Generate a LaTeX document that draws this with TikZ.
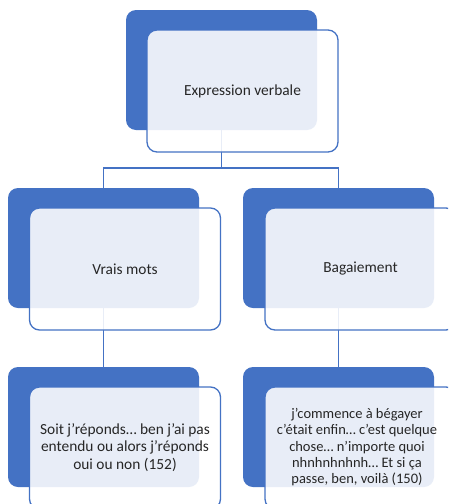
\documentclass[tikz,border=0pt]{standalone}
\usepackage{fontspec}
\setmainfont{Carlito}
\definecolor{acc}{HTML}{4472C4}
\definecolor{txt}{HTML}{262626}
\tikzset{
  darkbox/.style={fill=acc, draw=none, rounded corners=10pt, minimum width=191pt, minimum height=120pt, inner sep=0pt, outer sep=0pt},
  lightbox/.style={fill=white, fill opacity=0.88, text opacity=1, draw=acc, line width=1.3pt, rounded corners=10pt, minimum width=191pt, minimum height=122pt, inner sep=0pt, outer sep=0pt, align=center, text=txt},
  conn/.style={draw=acc, line width=1.5pt}
}
\begin{document}
\begin{tikzpicture}[x=1pt, y=-1pt]
\clip (0,0) rectangle (448,504);
\fill[white] (0,0) rectangle (448,504);
% dark boxes
\node[darkbox] (d0) at (221.5,70) {};
\node[darkbox] (d1) at (103.5,248) {};
\node[darkbox] (d2) at (338.5,248) {};
\node[darkbox] (d3) at (103.5,427) {};
\node[darkbox] (d4) at (338.5,427) {};
% connectors
\coordinate (j0) at (221.5,168);
\draw[conn] (d0.south) -- (j0) -| (d1.north);
\draw[conn] (j0) -| (d2.north);
\draw[conn] (d1.south) -- (d3.north);
\draw[conn] (d2.south) -- (d4.north);
% light boxes
\node[lightbox, font=\fontsize{15.4}{18.5}\selectfont] (l0) at (242.5,91) {Expression verbale};
\node[lightbox, font=\fontsize{15.4}{18.5}\selectfont] (l1) at (125,269) {Vrais mots};
\node[lightbox, font=\fontsize{15.4}{18.5}\selectfont] (l2) at (360.5,269) {Bagaiement};
\node[lightbox, font=\fontsize{15.4}{17.5}\selectfont] (l3) at (125,448) {\raisebox{-3pt}{\begin{tabular}{@{}c@{}}Soit j’réponds… ben j’ai pas\\entendu ou alors j’réponds\\oui ou non (152)\end{tabular}}};
\node[lightbox, font=\fontsize{14.5}{16.3}\selectfont] (l4) at (360.5,448) {\hspace*{-7pt}\begin{tabular}{@{}c@{}}j’commence à bégayer\\c’était enfin… c’est quelque\\chose… n’importe quoi\\nhnhnhnhnh… Et si ça\\passe, ben, voilà (150)\end{tabular}};
\end{tikzpicture}
\end{document}
